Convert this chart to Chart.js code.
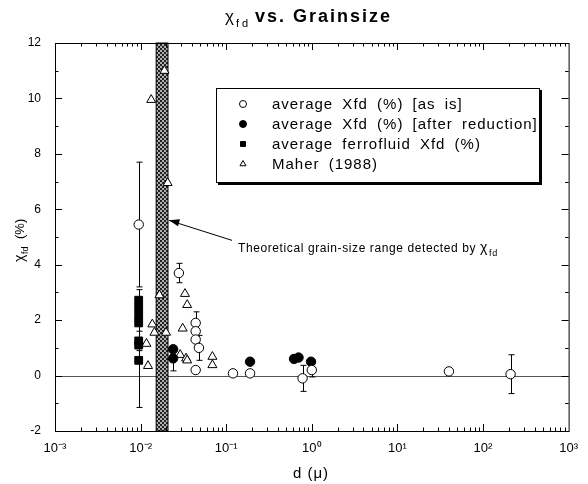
<!DOCTYPE html>
<html>
<head>
<meta charset="utf-8">
<script src="https://cdn.jsdelivr.net/npm/chart.js@4/dist/chart.umd.min.js"></script>
<style>
  html, body { margin: 0; padding: 0; background: #fff; }
</style>
</head>
<body>
<canvas id="chart" width="588" height="484"></canvas>
<script>
'use strict';

// average Xfd (%) [as is]  (open circles)
const asIsD   = [0.0095, 0.028, 0.044, 0.044, 0.044, 0.048, 0.044, 0.12, 0.19, 0.78, 1.0, 40, 210];
const asIsV   = [5.45, 3.7, 1.9, 1.6, 1.3, 1.0, 0.2, 0.08, 0.08, -0.1, 0.2, 0.15, 0.05];
const asIsErr = [2.25, 0.35, 0.4, 0, 0, 0.45, 0, 0, 0, 0.47, 0.25, 0, 0.7];

// average Xfd (%) [after reduction]  (filled circles)
const redD   = [0.024, 0.024, 0.19, 0.62, 0.7, 0.98];
const redV   = [0.95, 0.62, 0.5, 0.6, 0.65, 0.5];
const redErr = [0, 0.45, 0, 0, 0, 0];

// average ferrofluid Xfd (%)  (filled squares)
const ferroD   = [0.0095, 0.0095, 0.0095, 0.0095, 0.0095, 0.0095, 0.0095];
const ferroV   = [2.72, 2.45, 2.17, 1.9, 1.25, 1.1, 0.55];
const ferroErr = [0.38, 0, 0, 0, 0.35, 0, 1.7];

// Maher (1988)  (open triangles)
const maherD = [0.019, 0.0133, 0.0207, 0.0166, 0.0137, 0.0145, 0.0198, 0.0117, 0.0122,
                0.031, 0.033, 0.035, 0.029, 0.034, 0.035, 0.069, 0.069];
const maherV = [11.0, 9.95, 6.95, 2.9, 1.85, 1.55, 1.55, 1.15, 0.35,
                1.7, 2.95, 2.55, 0.75, 0.62, 0.55, 0.68, 0.38];

// theoretical grain-size range (hatched band), in microns
const bandD = [0.0152, 0.0209];

// axis ticks
const xTickVals   = [0.001, 0.01, 0.1, 1, 10, 100, 1000];
const xTickLabels = ['10\u207B\u00B3', '10\u207B\u00B2', '10\u207B\u00B9', '10\u2070', '10\u00B9', '10\u00B2', '10\u00B3'];
const yTickVals   = [-2, 0, 2, 4, 6, 8, 10, 12];

const FONT = "'Liberation Sans', Arial, sans-serif";

function toPoints(xs, ys, es) {
    return xs.map((x, i) => ({ x: x, y: ys[i], e: es ? es[i] : 0 }));
}

// 밴드 + 0 기준선 (데이터 그리기 전에)
const bandPlugin = {
    id: 'band',
    beforeDatasetsDraw(chart) {
        const { ctx, chartArea: a, scales: { x, y } } = chart;
        ctx.save();
        // zero line
        const y0 = Math.round(y.getPixelForValue(0)) + 0.5;
        ctx.strokeStyle = '#555';
        ctx.lineWidth = 1;
        ctx.beginPath();
        ctx.moveTo(a.left, y0);
        ctx.lineTo(a.right, y0);
        ctx.stroke();

        // hatched band
        const c = document.createElement('canvas');
        c.width = 4; c.height = 4;
        const g = c.getContext('2d');
        g.fillStyle = '#b0b0b0'; g.fillRect(0, 0, 4, 4);
        g.fillStyle = '#222'; g.fillRect(0, 0, 2, 2); g.fillRect(2, 2, 2, 2);
        const x1 = x.getPixelForValue(bandD[0]);
        const x2 = x.getPixelForValue(bandD[1]);
        ctx.fillStyle = ctx.createPattern(c, 'repeat');
        ctx.fillRect(x1, a.top, x2 - x1, a.bottom - a.top);
        ctx.strokeStyle = '#000';
        ctx.strokeRect(x1, a.top, x2 - x1, a.bottom - a.top);
        ctx.restore();
    }
};

// 에러바
const errorBarPlugin = {
    id: 'errorBars',
    beforeDatasetsDraw(chart) {
        const { ctx, scales: { x, y } } = chart;
        ctx.save();
        ctx.strokeStyle = '#000';
        ctx.lineWidth = 1;
        chart.data.datasets.forEach(ds => {
            ds.data.forEach(p => {
                if (!p.e) return;
                const px = Math.round(x.getPixelForValue(p.x)) + 0.5;
                const yt = y.getPixelForValue(p.y + p.e);
                const yb = y.getPixelForValue(p.y - p.e);
                ctx.beginPath();
                ctx.moveTo(px, yt); ctx.lineTo(px, yb);
                ctx.moveTo(px - 3, yt); ctx.lineTo(px + 3, yt);
                ctx.moveTo(px - 3, yb); ctx.lineTo(px + 3, yb);
                ctx.stroke();
            });
        });
        ctx.restore();
    }
};

// 테두리 + 안쪽 눈금
const framePlugin = {
    id: 'frame',
    afterDatasetsDraw(chart) {
        const { ctx, chartArea: a, scales: { x, y } } = chart;
        ctx.save();
        ctx.strokeStyle = '#000';
        ctx.lineWidth = 1;
        ctx.strokeRect(a.left + 0.5, a.top + 0.5, a.right - a.left, a.bottom - a.top);
        ctx.beginPath();
        for (let k = -3; k <= 2; k++) {
            for (let m = 1; m <= 9; m++) {
                const px = Math.round(x.getPixelForValue(m * Math.pow(10, k))) + 0.5;
                const len = m === 1 ? 7 : 3.5;
                ctx.moveTo(px, a.bottom); ctx.lineTo(px, a.bottom - len);
                ctx.moveTo(px, a.top); ctx.lineTo(px, a.top + len);
            }
        }
        for (let v = -2; v <= 12; v++) {
            const py = Math.round(y.getPixelForValue(v)) + 0.5;
            const len = v % 2 === 0 ? 7 : 3.5;
            ctx.moveTo(a.left, py); ctx.lineTo(a.left + len, py);
            ctx.moveTo(a.right, py); ctx.lineTo(a.right - len, py);
        }
        ctx.stroke();
        ctx.restore();
    }
};

// 제목, 축 제목, 범례, 주석
const textPlugin = {
    id: 'texts',
    afterDraw(chart) {
        const { ctx, scales: { x, y } } = chart;
        ctx.save();
        ctx.fillStyle = '#000';
        ctx.textBaseline = 'alphabetic';

        // title
        ctx.font = '17px ' + FONT;
        ctx.fillText('\u03C7', 225, 22);
        ctx.font = '11px ' + FONT;
        ctx.letterSpacing = '3px';
        ctx.fillText('fd', 236, 27);
        ctx.font = 'bold 18px ' + FONT;
        ctx.letterSpacing = '2px';
        ctx.fillText('vs. Grainsize', 255, 22);
        ctx.letterSpacing = '0px';

        // x title
        ctx.font = '15px ' + FONT;
        ctx.letterSpacing = '1px';
        ctx.textAlign = 'center';
        ctx.fillText('d (\u03BC)', 311, 478);
        ctx.letterSpacing = '0px';

        // y title
        ctx.save();
        ctx.translate(24, 237);
        ctx.rotate(-Math.PI / 2);
        ctx.textAlign = 'left';
        ctx.font = '14px ' + FONT;
        ctx.fillText('\u03C7', -25, 0);
        ctx.font = '9px ' + FONT;
        ctx.fillText('fd', -17, 4);
        ctx.font = '13px ' + FONT;
        ctx.fillText('(%)', -2, 0);
        ctx.restore();

        // legend box
        const bx = 216, by = 88, bw = 324, bh = 95;
        ctx.fillStyle = '#000';
        ctx.fillRect(bx + 2, by + 2, bw, bh);
        ctx.fillStyle = '#fff';
        ctx.fillRect(bx, by, bw, bh);
        ctx.strokeStyle = '#000';
        ctx.lineWidth = 1;
        ctx.strokeRect(bx + 0.5, by + 0.5, bw - 1, bh - 1);
        ctx.textAlign = 'left';
        ctx.textBaseline = 'middle';
        ctx.font = '15px ' + FONT;
        ctx.letterSpacing = '1px';
        ctx.wordSpacing = '4px';
        chart.data.datasets.forEach((ds, i) => {
            const ly = by + 16 + i * 20;
            ctx.fillStyle = ds.backgroundColor;
            ctx.strokeStyle = ds.borderColor;
            Chart.helpers.drawPoint(ctx, { pointStyle: ds.pointStyle, radius: 3.5, borderWidth: 1, rotation: 0 }, 243, ly);
            ctx.fillStyle = '#000';
            ctx.fillText(ds.label, 272, ly + 1);
        });
        ctx.letterSpacing = '0px';
        ctx.wordSpacing = '0px';

        // annotation arrow
        const ax = x.getPixelForValue(bandD[1]);
        const ay = y.getPixelForValue(5.6);
        ctx.strokeStyle = '#000';
        ctx.beginPath();
        ctx.moveTo(ax + 1, ay);
        ctx.lineTo(232, ay + 20);
        ctx.stroke();
        ctx.fillStyle = '#000';
        ctx.beginPath();
        ctx.moveTo(ax + 1, ay);
        ctx.lineTo(ax + 12, ay - 1);
        ctx.lineTo(ax + 10, ay + 6);
        ctx.closePath();
        ctx.fill();

        ctx.font = '12px ' + FONT;
        ctx.letterSpacing = '0.6px';
        ctx.textBaseline = 'alphabetic';
        const t = 'Theoretical grain-size range detected by ';
        ctx.fillText(t, 238, 252);
        const tw = ctx.measureText(t).width;
        ctx.font = '14px ' + FONT;
        ctx.fillText('\u03C7', 238 + tw, 252);
        ctx.font = '9px ' + FONT;
        ctx.fillText('fd', 238 + tw + 9, 256);
        ctx.restore();
    }
};

const data = {
    datasets: [
        {
            label: 'average Xfd (%) [as is]',
            data: toPoints(asIsD, asIsV, asIsErr),
            pointStyle: 'circle',
            pointRadius: 4.7,
            backgroundColor: '#fff',
            borderColor: '#000',
            borderWidth: 1
        },
        {
            label: 'average Xfd (%) [after reduction]',
            data: toPoints(redD, redV, redErr),
            pointStyle: 'circle',
            pointRadius: 4.7,
            backgroundColor: '#000',
            borderColor: '#000',
            borderWidth: 1
        },
        {
            label: 'average ferrofluid Xfd (%)',
            data: toPoints(ferroD, ferroV, ferroErr),
            pointStyle: 'rect',
            pointRadius: 5.5,
            backgroundColor: '#000',
            borderColor: '#000',
            borderWidth: 1
        },
        {
            label: 'Maher (1988)',
            data: toPoints(maherD, maherV, null),
            pointStyle: 'triangle',
            pointRadius: 5.2,
            backgroundColor: '#fff',
            borderColor: '#000',
            borderWidth: 1
        }
    ]
};

const config = {
    type: 'scatter',
    data,
    options: {
        responsive: false,
        animation: false,
        devicePixelRatio: 1,
        layout: { padding: { top: 43, right: 15, left: 0, bottom: 0 } },
        plugins: {
            legend: { display: false },
            tooltip: { enabled: false },
            title: { display: false }
        },
        scales: {
            x: {
                type: 'logarithmic',
                min: 0.001,
                max: 1000,
                afterBuildTicks: s => { s.ticks = xTickVals.map(v => ({ value: v, major: true })); },
                afterFit: s => { s.height = 53; },
                ticks: {
                    callback: v => xTickLabels[xTickVals.indexOf(v)],
                    autoSkip: false,
                    maxRotation: 0,
                    padding: 10,
                    color: '#000',
                    font: { family: FONT, size: 13 }
                },
                grid: { display: false, drawTicks: false },
                border: { display: true, color: '#000' }
            },
            y: {
                type: 'linear',
                min: -2,
                max: 12,
                afterBuildTicks: s => { s.ticks = yTickVals.map(v => ({ value: v })); },
                afterFit: s => { s.width = 55; },
                ticks: {
                    callback: v => String(v),
                    padding: 14,
                    color: '#000',
                    font: { family: FONT, size: 12 }
                },
                grid: { display: false, drawTicks: false },
                border: { display: true, color: '#000' }
            }
        }
    },
    plugins: [bandPlugin, errorBarPlugin, framePlugin, textPlugin]
};

const chart = new Chart(document.getElementById('chart'), config);
</script>
</body>
</html>
